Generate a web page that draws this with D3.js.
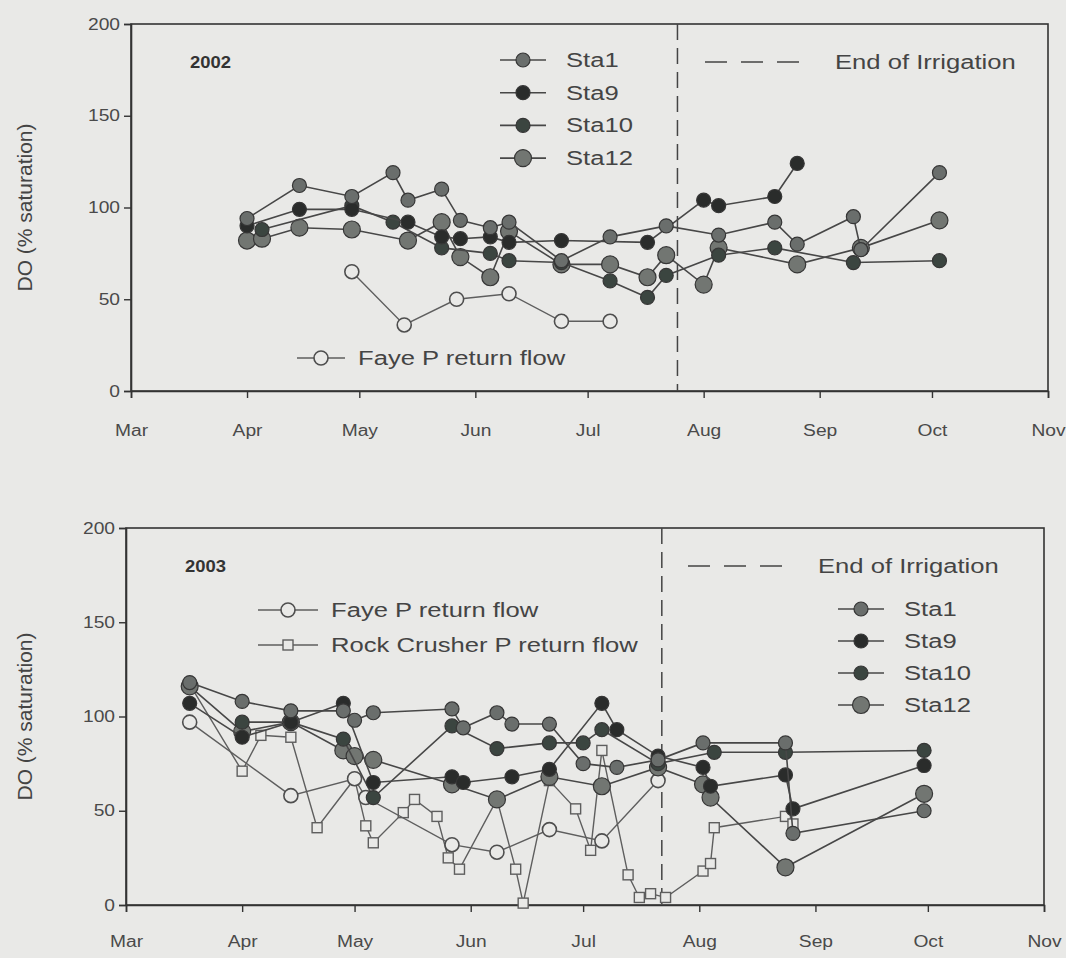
<!DOCTYPE html>
<html><head><meta charset="utf-8">
<script src="https://cdn.jsdelivr.net/npm/d3@7"></script>
<style>
html,body{margin:0;padding:0;background:#e9e9e7;}
svg{display:block;font-family:"Liberation Sans",Arial,sans-serif;}
</style></head><body>
<svg id="chart" width="1066" height="958"></svg>
<script>
// ---- tick labels ----
const monthLabels = ["Mar","Apr","May","Jun","Jul","Aug","Sep","Oct","Nov"];
const yTicks = [0,50,100,150,200];

// ---- 2002 ----
const sta1Dates2002  = ["04-01","04-15","04-29","05-10","05-14","05-23","05-28","06-05","06-10","06-24","07-07","07-22","08-05","08-20","08-26","09-10","09-12","10-03"];
const sta1Values2002 = [94,112,106,119,104,110,93,89,92,71,84,90,85,92,80,95,77,119];
const sta9Dates2002  = ["04-01","04-15","04-29","05-14","05-23","05-28","06-05","06-10","06-24","07-17","08-01","08-05","08-20","08-26"];
const sta9Values2002 = [90,99,99,92,84,83,84,81,82,81,104,101,106,124];
const sta10Dates2002  = ["04-05","04-29","05-10","05-23","06-05","06-10","06-24","07-07","07-17","07-22","08-05","08-20","09-10","10-03"];
const sta10Values2002 = [88,101,92,78,75,71,70,60,51,63,74,78,70,71];
const sta12Dates2002  = ["04-01","04-05","04-15","04-29","05-14","05-23","05-28","06-05","06-10","06-24","07-07","07-17","07-22","08-01","08-05","08-26","09-12","10-03"];
const sta12Values2002 = [82,83,89,88,82,92,73,62,87,69,69,62,74,58,78,69,78,93];
const fayeDates2002  = ["04-29","05-13","05-27","06-10","06-24","07-07"];
const fayeValues2002 = [65,36,50,53,38,38];
const endIrrigation2002 = "07-25";

// ---- 2003 ----
const sta1Dates2003  = ["03-18","04-01","04-14","04-28","05-01","05-06","05-27","05-30","06-08","06-12","06-22","07-01","07-10","07-21","08-02","08-24","08-26","09-30"];
const sta1Values2003 = [118,108,103,103,98,102,104,94,102,96,96,75,73,77,86,86,38,50];
const sta9Dates2003  = ["03-18","04-01","04-14","04-28","05-06","05-27","05-30","06-12","06-22","07-06","07-10","07-21","08-02","08-04","08-24","08-26","09-30"];
const sta9Values2003 = [107,89,97,107,65,68,65,68,72,107,93,79,73,63,69,51,74];
const sta10Dates2003  = ["04-01","04-14","04-28","05-06","05-27","06-08","06-22","07-01","07-06","07-21","08-05","08-24","09-30"];
const sta10Values2003 = [97,97,88,57,95,83,86,86,93,75,81,81,82];
const sta12Dates2003  = ["03-18","04-01","04-14","04-28","05-01","05-06","05-27","06-08","06-22","07-06","07-21","08-02","08-04","08-24","09-30"];
const sta12Values2003 = [116,92,97,82,79,77,64,56,68,63,73,64,57,20,59];
const fayeDates2003  = ["03-18","04-14","05-01","05-04","05-27","06-08","06-22","07-06","07-21"];
const fayeValues2003 = [97,58,67,57,32,28,40,34,66];
const rockDates2003  = ["03-18","04-01","04-06","04-14","04-21","05-01","05-04","05-06","05-14","05-17","05-23","05-26","05-29","06-08","06-13","06-15","06-22","06-29","07-03","07-06","07-13","07-16","07-19","07-23","08-02","08-04","08-05","08-24","08-26"];
const rockValues2003 = [117,71,90,89,41,67,42,33,49,56,47,25,19,56,19,1,66,51,29,82,16,4,6,4,18,22,41,47,43];
const endIrrigation2003 = "07-22";

// ---- styles ----
const BG = "#e9e9e7";
const STRETCH = 1.28;
const staStyle = {
  Sta1:  {fill:"#6a6e6c", r:7},
  Sta9:  {fill:"#2a2c2b", r:7},
  Sta10: {fill:"#3b4540", r:7},
  Sta12: {fill:"#727672", r:8.5}
};

const svg = d3.select("#chart");
const parse = d3.timeParse("%Y-%m-%d");

function stretch(sel, s){
  sel.each(function(){
    const w = this.getComputedTextLength();
    d3.select(this).attr("textLength", w*s).attr("lengthAdjust","spacingAndGlyphs");
  });
  return sel;
}

function toPts(year, dates, values){
  return dates.map((d,i)=>({date:parse(year+"-"+d), v:values[i]}));
}

function drawPanel(cfg){
  const {year, x0, x1, yTop, yBot} = cfg;
  const x = d3.scaleTime().domain([parse(year+"-03-01"), parse(year+"-11-01")]).range([x0,x1]);
  const y = d3.scaleLinear().domain([0,200]).range([yBot,yTop]);
  const g = svg.append("g");

  g.append("rect").attr("x",x0).attr("y",yTop).attr("width",x1-x0).attr("height",yBot-yTop)
    .attr("fill","none").attr("stroke","#333").attr("stroke-width",1.6);

  const months = d3.timeMonth.range(parse(year+"-03-01"), parse(year+"-11-02"));
  const xa = g.append("g").attr("transform",`translate(0,${yBot})`)
    .call(d3.axisBottom(x).tickValues(months).tickSize(7).tickPadding(cfg.xPad)
      .tickFormat((d,i)=>monthLabels[i]));
  const ya = g.append("g").attr("transform",`translate(${x0},0)`)
    .call(d3.axisLeft(y).tickValues(yTicks).tickSize(7).tickPadding(4));
  [xa,ya].forEach(a=>{
    a.select(".domain").attr("stroke","#333").attr("stroke-width",1.6);
    a.selectAll(".tick line").attr("stroke","#333").attr("stroke-width",1.4);
    a.selectAll(".tick text").attr("fill","#4a4a4a").attr("font-size",16).attr("font-family","Liberation Sans, Arial, sans-serif");
    stretch(a.selectAll(".tick text"), 1.2);
  });

  g.append("text").attr("transform",`translate(32,${(yTop+yBot)/2}) rotate(-90)`)
    .attr("text-anchor","middle").attr("fill","#444").attr("font-size",21)
    .text("DO (% saturation)");

  stretch(g.append("text").attr("x",x0+59).attr("y",yTop+44).attr("font-weight","bold")
    .attr("font-size",16).attr("fill","#333").text(year), 1.15);

  const xe = x(parse(year+"-"+cfg.endIrr));
  g.append("line").attr("x1",xe).attr("x2",xe).attr("y1",yTop).attr("y2",yBot)
    .attr("stroke","#444").attr("stroke-width",1.5).attr("stroke-dasharray","16,8");

  const line = d3.line().x(d=>x(d.date)).y(d=>y(d.v));

  cfg.open.forEach(s=>{
    const pts = toPts(year, s.dates, s.values);
    g.append("path").attr("d",line(pts)).attr("fill","none").attr("stroke","#5e5e5e").attr("stroke-width",1.4);
    pts.forEach(p=>{
      if(s.shape==="square"){
        g.append("rect").attr("x",x(p.date)-5).attr("y",y(p.v)-5).attr("width",10).attr("height",10)
          .attr("fill",BG).attr("stroke","#5e5e5e").attr("stroke-width",1.4);
      } else {
        g.append("circle").attr("cx",x(p.date)).attr("cy",y(p.v)).attr("r",7)
          .attr("fill",BG).attr("stroke","#4e4e4e").attr("stroke-width",1.6);
      }
    });
  });

  cfg.sta.forEach(s=>{
    const pts = toPts(year, s.dates, s.values);
    const st = staStyle[s.name];
    g.append("path").attr("d",line(pts)).attr("fill","none").attr("stroke","#474747").attr("stroke-width",1.6);
    g.selectAll(null).data(pts).enter().append("circle")
      .attr("cx",d=>x(d.date)).attr("cy",d=>y(d.v)).attr("r",st.r)
      .attr("fill",st.fill).attr("stroke","#363636").attr("stroke-width",1.2);
  });

  cfg.staLegend.forEach((name,i)=>{
    const ly = cfg.staLegendY + i*cfg.staLegendStep;
    const st = staStyle[name];
    g.append("line").attr("x1",cfg.staLegendX).attr("x2",cfg.staLegendX+46).attr("y1",ly).attr("y2",ly)
      .attr("stroke","#474747").attr("stroke-width",1.6);
    g.append("circle").attr("cx",cfg.staLegendX+23).attr("cy",ly).attr("r",st.r)
      .attr("fill",st.fill).attr("stroke","#363636").attr("stroke-width",1.2);
    stretch(g.append("text").attr("x",cfg.staLegendX+66).attr("y",ly+7).attr("font-size",20).attr("fill","#444").text(name), STRETCH);
  });
  cfg.openLegend.forEach(o=>{
    const ly = o.y;
    g.append("line").attr("x1",o.x).attr("x2",o.x+o.w).attr("y1",ly).attr("y2",ly)
      .attr("stroke","#5e5e5e").attr("stroke-width",1.4);
    const cx = o.x+o.w/2;
    if(o.shape==="square"){
      g.append("rect").attr("x",cx-5).attr("y",ly-5).attr("width",10).attr("height",10)
        .attr("fill",BG).attr("stroke","#5e5e5e").attr("stroke-width",1.4);
    } else {
      g.append("circle").attr("cx",cx).attr("cy",ly).attr("r",7)
        .attr("fill",BG).attr("stroke","#4e4e4e").attr("stroke-width",1.6);
    }
    stretch(g.append("text").attr("x",o.x+o.w+13).attr("y",ly+7).attr("font-size",20).attr("fill","#444").text(o.label), STRETCH);
  });
  g.append("line").attr("x1",cfg.eiX).attr("x2",cfg.eiX+96).attr("y1",cfg.eiY).attr("y2",cfg.eiY)
    .attr("stroke","#444").attr("stroke-width",1.5).attr("stroke-dasharray","22,14");
  stretch(g.append("text").attr("x",cfg.eiX+cfg.eiGap).attr("y",cfg.eiY+7).attr("font-size",20).attr("fill","#444")
    .text("End of Irrigation"), STRETCH);
}

drawPanel({
  year:"2002", x0:131, x1:1048, yTop:24, yBot:391, endIrr:endIrrigation2002, xPad:27,
  open:[{dates:fayeDates2002, values:fayeValues2002, shape:"circle"}],
  sta:[
    {name:"Sta12", dates:sta12Dates2002, values:sta12Values2002},
    {name:"Sta10", dates:sta10Dates2002, values:sta10Values2002},
    {name:"Sta9",  dates:sta9Dates2002,  values:sta9Values2002},
    {name:"Sta1",  dates:sta1Dates2002,  values:sta1Values2002}
  ],
  staLegend:["Sta1","Sta9","Sta10","Sta12"], staLegendX:500, staLegendY:60, staLegendStep:32.7,
  openLegend:[{x:297,w:48,y:358,shape:"circle",label:"Faye P return flow"}],
  eiX:705, eiY:62, eiGap:130
});

drawPanel({
  year:"2003", x0:126, x1:1044, yTop:528, yBot:905, endIrr:endIrrigation2003, xPad:24,
  open:[{dates:rockDates2003, values:rockValues2003, shape:"square"},
        {dates:fayeDates2003, values:fayeValues2003, shape:"circle"}],
  sta:[
    {name:"Sta12", dates:sta12Dates2003, values:sta12Values2003},
    {name:"Sta10", dates:sta10Dates2003, values:sta10Values2003},
    {name:"Sta9",  dates:sta9Dates2003,  values:sta9Values2003},
    {name:"Sta1",  dates:sta1Dates2003,  values:sta1Values2003}
  ],
  staLegend:["Sta1","Sta9","Sta10","Sta12"], staLegendX:838, staLegendY:609, staLegendStep:32,
  openLegend:[{x:258,w:60,y:610,shape:"circle",label:"Faye P return flow"},
              {x:258,w:60,y:645,shape:"square",label:"Rock Crusher P return flow"}],
  eiX:688, eiY:566, eiGap:130
});
</script>
</body></html>
